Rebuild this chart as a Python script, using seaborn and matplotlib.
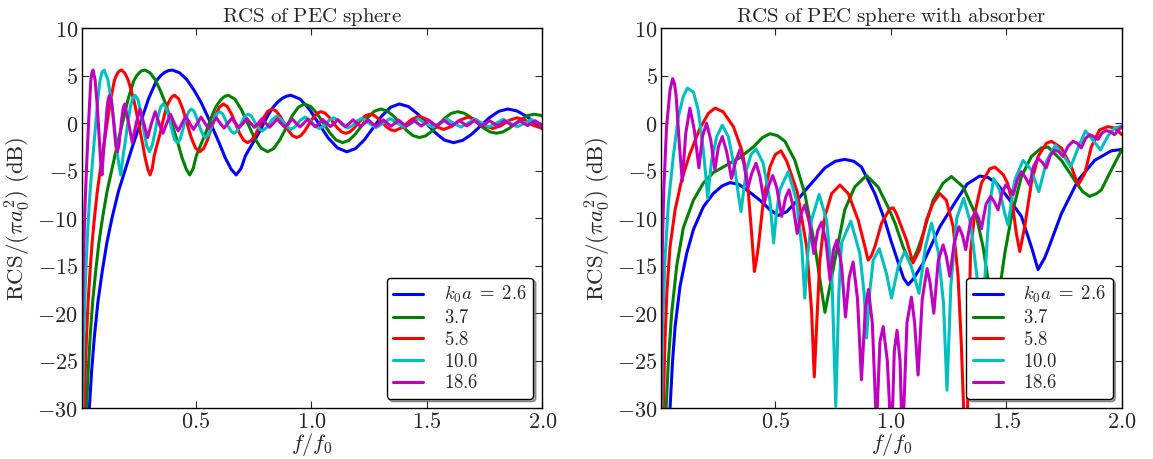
import numpy as np
import matplotlib
matplotlib.use("Agg")
import matplotlib.pyplot as plt
from matplotlib.ticker import FuncFormatter, FixedLocator
import seaborn as sns

# ---------------- data ----------------
k0a_labels = [r"$k_0a\;=\;2.6$", r"$3.7$", r"$5.8$", r"$10.0$", r"$18.6$"]
colors = ["#0000ff", "#008000", "#ff0000", "#00bfbf", "#bf00bf"]

# Left panel: RCS of PEC sphere
pec_f_26 = [0.0327, 0.0385, 0.05, 0.0615, 0.0769, 0.0962, 0.1154, 0.1385, 0.1654, 0.1962, 0.2269, 0.2615, 0.2962,
            0.3308, 0.3481, 0.3654, 0.3827, 0.4, 0.4308, 0.4615, 0.4923, 0.5231, 0.55, 0.5769, 0.6038, 0.6269,
            0.6538, 0.675, 0.6962, 0.7154, 0.7346, 0.7538, 0.7769, 0.7962, 0.8154, 0.8346, 0.8538, 0.8731, 0.8923,
            0.9115, 0.9519, 0.9923, 1.0327, 1.0731, 1.1135, 1.1538, 1.1915, 1.2296, 1.2673, 1.305, 1.3431, 1.3808,
            1.42, 1.4588, 1.4981, 1.5373, 1.5762, 1.6154, 1.6546, 1.6935, 1.7327, 1.7719, 1.8108, 1.85, 1.8896,
            1.9296, 1.9692, 2.0088]
pec_db_26 = [-33, -30.5, -26.0, -22.5, -18.8, -15.5, -12.6, -9.9, -7.2, -4.8, -2.4, 0.1, 2.6, 4.5, 5.0, 5.35, 5.55,
             5.6, 5.3, 4.6, 3.5, 2.2, 0.8, -0.7, -2.2, -3.6, -4.85, -5.44, -4.75, -3.4, -2.6, -1.8, -0.85, 0.1,
             0.95, 1.7, 2.2, 2.6, 2.85, 2.95, 2.55, 1.45, -0.05, -1.55, -2.6, -3.0, -2.66, -1.74, -0.49, 0.77, 1.69,
             2.03, 1.76, 1.01, 0.0, -1.02, -1.77, -2.04, -1.8, -1.155, -0.27, 0.615, 1.26, 1.5, 1.3, 0.75, 0.0,
             -0.75]

pec_f_37 = [0.023, 0.027, 0.0351, 0.0432, 0.0541, 0.0676, 0.0811, 0.0973, 0.1162, 0.1378, 0.1595, 0.1838, 0.2081,
            0.2324, 0.2446, 0.2568, 0.2689, 0.2811, 0.3027, 0.3243, 0.3459, 0.3676, 0.3865, 0.4054, 0.4243, 0.4405,
            0.4595, 0.4743, 0.4892, 0.5027, 0.5162, 0.5297, 0.5459, 0.5595, 0.573, 0.5865, 0.6, 0.6135, 0.627,
            0.6405, 0.6689, 0.6973, 0.7257, 0.7541, 0.7824, 0.8108, 0.8373, 0.8641, 0.8905, 0.917, 0.9438, 0.9703,
            0.9978, 1.0251, 1.0527, 1.0803, 1.1076, 1.1351, 1.1627, 1.19, 1.2176, 1.2451, 1.2724, 1.3, 1.3278,
            1.3559, 1.3838, 1.4116, 1.4397, 1.4676, 1.4951, 1.5224, 1.55, 1.5776, 1.6049, 1.6324, 1.6603, 1.6884,
            1.7162, 1.7441, 1.7722, 1.8, 1.8276, 1.8549, 1.8824, 1.91, 1.9373, 1.9649, 1.9927, 2.0208]
pec_db_37 = [-33, -30.5, -26.0, -22.5, -18.8, -15.5, -12.6, -9.9, -7.2, -4.8, -2.4, 0.1, 2.6, 4.5, 5.0, 5.35, 5.55,
             5.6, 5.3, 4.6, 3.5, 2.2, 0.8, -0.7, -2.2, -3.6, -4.85, -5.44, -4.75, -3.4, -2.6, -1.8, -0.85, 0.1,
             0.95, 1.7, 2.2, 2.6, 2.85, 2.95, 2.55, 1.45, -0.05, -1.55, -2.6, -3.0, -2.66, -1.74, -0.49, 0.77, 1.69,
             2.03, 1.76, 1.01, 0.0, -1.02, -1.77, -2.04, -1.8, -1.155, -0.27, 0.615, 1.26, 1.5, 1.3, 0.75, 0.0,
             -0.75, -1.3, -1.5, -1.32, -0.82, -0.14, 0.54, 1.04, 1.22, 1.07, 0.65, 0.085, -0.48, -0.9, -1.05, -0.92,
             -0.55, -0.05, 0.45, 0.82, 0.95, 0.83, 0.51]

pec_f_58 = [0.0147, 0.0172, 0.0224, 0.0276, 0.0345, 0.0431, 0.0517, 0.0621, 0.0741, 0.0879, 0.1017, 0.1172, 0.1328,
            0.1483, 0.156, 0.1638, 0.1716, 0.1793, 0.1931, 0.2069, 0.2207, 0.2345, 0.2466, 0.2586, 0.2707, 0.281,
            0.2931, 0.3026, 0.3121, 0.3207, 0.3293, 0.3379, 0.3483, 0.3569, 0.3655, 0.3741, 0.3828, 0.3914, 0.4,
            0.4086, 0.4267, 0.4448, 0.4629, 0.481, 0.4991, 0.5172, 0.5341, 0.5512, 0.5681, 0.585, 0.6021, 0.619,
            0.6366, 0.654, 0.6716, 0.6891, 0.7066, 0.7241, 0.7417, 0.7591, 0.7767, 0.7943, 0.8117, 0.8293, 0.8471,
            0.865, 0.8828, 0.9005, 0.9184, 0.9362, 0.9538, 0.9712, 0.9888, 1.0064, 1.0238, 1.0414, 1.0591, 1.0771,
            1.0948, 1.1126, 1.1305, 1.1483, 1.1659, 1.1833, 1.2009, 1.2184, 1.2359, 1.2534, 1.2712, 1.2891, 1.3069,
            1.3247, 1.3426, 1.3603, 1.3948, 1.431, 1.4655, 1.5017, 1.5362, 1.5724, 1.6069, 1.6431, 1.6776, 1.7138,
            1.7483, 1.7845, 1.819, 1.8552, 1.8897, 1.9259, 1.9603, 1.9966, 2.031]
pec_db_58 = [-33, -30.5, -26.0, -22.5, -18.8, -15.5, -12.6, -9.9, -7.2, -4.8, -2.4, 0.1, 2.6, 4.5, 5.0, 5.35, 5.55,
             5.6, 5.3, 4.6, 3.5, 2.2, 0.8, -0.7, -2.2, -3.6, -4.85, -5.44, -4.75, -3.4, -2.6, -1.8, -0.85, 0.1,
             0.95, 1.7, 2.2, 2.6, 2.85, 2.95, 2.55, 1.45, -0.05, -1.55, -2.6, -3.0, -2.66, -1.74, -0.49, 0.77, 1.69,
             2.03, 1.76, 1.01, 0.0, -1.02, -1.77, -2.04, -1.8, -1.155, -0.27, 0.615, 1.26, 1.5, 1.3, 0.75, 0.0,
             -0.75, -1.3, -1.5, -1.32, -0.82, -0.14, 0.54, 1.04, 1.22, 1.07, 0.65, 0.085, -0.48, -0.9, -1.05, -0.92,
             -0.55, -0.05, 0.45, 0.82, 0.95, 0.83, 0.51, 0.075, -0.36, -0.68, -0.8, -0.41, 0.36, 0.75, 0.4, -0.3,
             -0.65, -0.33, 0.33, 0.65, 0.35, -0.25, -0.55, -0.27, 0.30, 0.58, 0.31, -0.23, -0.5, -0.24]

pec_f_100 = [0.0085, 0.01, 0.013, 0.016, 0.02, 0.025, 0.03, 0.036, 0.043, 0.051, 0.059, 0.068, 0.077, 0.086, 0.095,
             0.104, 0.12, 0.136, 0.15, 0.163, 0.1755, 0.186, 0.196, 0.207, 0.217, 0.227, 0.237, 0.25, 0.263, 0.276,
             0.288, 0.30, 0.312, 0.324, 0.336, 0.348, 0.359, 0.371, 0.384, 0.396, 0.408, 0.42, 0.432, 0.445, 0.457,
             0.469, 0.481, 0.493, 0.506, 0.518, 0.531, 0.543, 0.555, 0.567, 0.58, 0.592, 0.604, 0.616, 0.628,
             0.642, 0.654, 0.666, 0.678, 0.69, 0.703, 0.715, 0.727, 0.739, 0.752, 0.764, 0.777, 0.789, 0.809, 0.83,
             0.85, 0.871, 0.891, 0.912, 0.932, 0.953, 0.973, 0.994, 1.014, 1.035, 1.055, 1.076, 1.096, 1.117, 1.137,
             1.158, 1.178, 1.199, 1.219, 1.25, 1.28, 1.311, 1.341, 1.372, 1.402, 1.433, 1.463, 1.494, 1.525, 1.555,
             1.586, 1.616, 1.647, 1.677, 1.708, 1.738, 1.769, 1.799, 1.83, 1.861, 1.891, 1.922, 1.952, 1.983, 2.013]
pec_db_100 = [-33, -30.5, -26.0, -22.5, -18.8, -15.5, -12.6, -9.9, -7.2, -4.8, -2.4, 0.1, 2.6, 4.5, 5.4, 5.6, 4.6,
              2.2, -0.7, -3.6, -5.44, -3.4, -1.8, 0.1, 1.7, 2.6, 2.95, 2.5, 1.1, -0.8, -2.4, -3.0, -2.3, -0.9, 0.6,
              1.7, 2.03, 1.7, 0.6, -0.6, -1.7, -2.04, -1.7, -0.6, 0.5, 1.2, 1.5, 1.25, 0.45, -0.45, -1.2, -1.5,
              -1.25, -0.45, 0.4, 1.0, 1.22, 1.0, 0.4, -0.4, -0.85, -1.05, -0.85, -0.35, 0.3, 0.8, 0.95, 0.8, 0.3,
              -0.3, -0.65, -0.8, -0.41, 0.36, 0.75, 0.4, -0.3, -0.65, -0.33, 0.33, 0.65, 0.35, -0.25, -0.55, -0.27,
              0.30, 0.58, 0.31, -0.23, -0.5, -0.24, 0.27, 0.52, 0.0, -0.45, 0.0, 0.5, 0.0, -0.43, 0.0, 0.48, 0.0,
              -0.41, 0.0, 0.46, 0.0, -0.4, 0.0, 0.44, 0.0, -0.38, 0.0, 0.42, 0.0, -0.37, 0.0, 0.4, 0.0, -0.35]

pec_f_186 = [0.0046, 0.0054, 0.0086, 0.0134, 0.0194, 0.0274, 0.0366, 0.0462, 0.0511, 0.0559, 0.0645, 0.0731,
             0.0806, 0.0876, 0.0944, 0.1, 0.1054, 0.1113, 0.1167, 0.122, 0.1274, 0.1344, 0.1414, 0.1484, 0.1548,
             0.1613, 0.1677, 0.1742, 0.1806, 0.1871, 0.1930, 0.2097, 0.2258, 0.2425,
             0.2586, 0.2753, 0.2919, 0.3086, 0.3247, 0.3414, 0.3581, 0.3747, 0.3909, 0.4075, 0.4242, 0.4409,
             0.4570, 0.4737, 0.4903, 0.5065, 0.5231, 0.5398, 0.5565, 0.5726, 0.5893, 0.6059, 0.6226, 0.6387,
             0.6554, 0.6720, 0.6882, 0.7048, 0.7210, 0.7376, 0.7538, 0.7704, 0.7866, 0.8032, 0.8199, 0.8360,
             0.8527, 0.8688, 0.8855, 0.9016, 0.9183, 0.9344, 0.9511, 0.9672, 0.9839, 1.0005, 1.0167, 1.0333,
             1.0495, 1.0661, 1.0823, 1.0989, 1.1151, 1.1317, 1.1479, 1.1645, 1.1807, 1.1973, 1.2134, 1.2301,
             1.2462, 1.2629, 1.2790, 1.2957, 1.3118, 1.3285, 1.3446, 1.3613, 1.3774, 1.3941, 1.4102, 1.4269,
             1.4430, 1.4597, 1.4758, 1.4925, 1.5086, 1.5253, 1.5414, 1.5581, 1.5742, 1.5909, 1.6070, 1.6237,
             1.6398, 1.6565, 1.6726, 1.6893, 1.7054, 1.7220, 1.7382, 1.7548, 1.7710, 1.7876, 1.8038, 1.8204,
             1.8366, 1.8532, 1.8694, 1.8860, 1.9022, 1.9188, 1.9350, 1.9516, 1.9677, 1.9844, 2.0005]
pec_db_186 = [-33, -30.5, -22.5, -15.5, -9.9, -4.8, 0.1, 4.5, 5.35, 5.6, 4.6, 2.2, -0.7, -3.6, -5.44, -3.4, -1.8,
              0.1, 1.7, 2.6, 2.95, 2.5, 1.1, -0.8, -2.4, -3.0, -2.3, -0.9, 0.6, 1.7, 2.03, 0.0, -2.04, 0.0,
              1.5, 0.0, -1.5, 0.0, 1.22, 0.0, -1.05, 0.0, 0.95, 0.0, -0.8,
              0.0, 0.75, 0.0, -0.65, 0.0, 0.65, 0.0, -0.55, 0.0, 0.58, 0.0, -0.5, 0.0, 0.52, 0.0, -0.45, 0.0, 0.5,
              0.0, -0.43, 0.0, 0.48, 0.0, -0.41, 0.0, 0.46, 0.0, -0.4, 0.0, 0.44, 0.0, -0.38, 0.0, 0.42, 0.0, -0.37,
              0.0, 0.4, 0.0, -0.35, 0.0, 0.38, 0.0, -0.34, 0.0, 0.37, 0.0, -0.33, 0.0, 0.36, 0.0, -0.32, 0.0, 0.35,
              0.0, -0.31, 0.0, 0.34, 0.0, -0.3, 0.0, 0.33, 0.0, -0.29, 0.0, 0.32, 0.0, -0.28, 0.0, 0.31, 0.0, -0.27,
              0.0, 0.3, 0.0, -0.27, 0.0, 0.29, 0.0, -0.26, 0.0, 0.28, 0.0, -0.26, 0.0, 0.27, 0.0, -0.25, 0.0, 0.27,
              0.0, -0.25, 0.0, 0.26, 0.0, -0.24]

# Right panel: RCS of PEC sphere with absorber
abs_f_26 = [0.040, 0.045, 0.056, 0.067, 0.088, 0.117, 0.146, 0.189, 0.232, 0.27, 0.304, 0.34, 0.376, 0.434, 0.477,
            0.513, 0.55, 0.585, 0.643, 0.715, 0.76, 0.801, 0.84, 0.873, 0.931, 0.974, 1.0, 1.03, 1.055, 1.075, 1.1,
            1.14, 1.212, 1.284, 1.33, 1.385, 1.42, 1.457, 1.493, 1.515, 1.565, 1.608, 1.637, 1.665, 1.68, 1.738,
            1.81, 1.882, 1.954, 2.0]
abs_db_26 = [-33, -30, -25, -21.4, -17.2, -13.7, -11.2, -8.8, -7.4, -6.6, -6.25, -6.4, -7.0, -8.1, -9.1, -9.7,
             -9.3, -8.4, -6.7, -4.7, -4.0, -3.8, -4.0, -4.6, -7.4, -10.2, -12.3, -14.5, -16.3, -17.0, -16.3, -14.7,
             -10.9, -8.1, -6.4, -5.55, -5.7, -6.3, -7.4, -8.1, -9.8, -13.0, -15.4, -14.2, -13.3, -9.5, -6.0, -3.9,
             -2.9, -2.75]

abs_f_37 = [0.023, 0.028, 0.038, 0.052, 0.074, 0.1025, 0.146, 0.189, 0.232, 0.29, 0.348, 0.405, 0.445, 0.477, 0.51,
            0.542, 0.585, 0.628, 0.672, 0.70, 0.715, 0.73, 0.758, 0.801, 0.844, 0.895, 0.945, 0.988, 1.018, 1.053,
            1.075, 1.096, 1.118, 1.14, 1.183, 1.226, 1.262, 1.313, 1.37, 1.399, 1.421, 1.44, 1.46, 1.479, 1.493,
            1.522, 1.565, 1.608, 1.651, 1.68, 1.738, 1.795, 1.83, 1.86, 1.89, 1.911, 1.954, 2.0]
abs_db_37 = [-33, -30, -25, -20, -15, -11.0, -8.1, -6.3, -5.2, -4.4, -3.6, -2.5, -1.5, -1.1, -1.3, -1.9, -3.9, -7.4,
             -13.0, -17.5, -19.9, -18.0, -14.4, -9.1, -6.7, -5.5, -6.7, -8.8, -10.5, -13.0, -14.2, -14.4, -13.2,
             -11.6, -8.1, -6.3, -5.6, -6.7, -9.8, -13.0, -16.5, -22.0, -18.5, -16.1, -13.7, -9.8, -5.6, -3.5, -2.6,
             -2.5, -3.9, -6.0, -7.2, -7.7, -7.4, -7.0, -4.9, -2.75]

abs_f_58 = [0.014, 0.016, 0.023, 0.031, 0.045, 0.067, 0.095, 0.131, 0.175, 0.211, 0.24, 0.275, 0.319, 0.355, 0.372,
            0.384, 0.398, 0.41, 0.418, 0.427, 0.449, 0.477, 0.50, 0.525, 0.55, 0.595, 0.636, 0.657, 0.669, 0.679,
            0.693, 0.715, 0.744, 0.78, 0.816, 0.859, 0.888, 0.902, 0.915, 0.931, 0.96, 0.996, 1.01, 1.024, 1.068,
            1.096, 1.125, 1.154, 1.183, 1.212, 1.24, 1.27, 1.291, 1.305, 1.315, 1.324, 1.332, 1.338, 1.345, 1.363,
            1.392, 1.428, 1.45, 1.486, 1.505, 1.525, 1.543, 1.558, 1.579, 1.608, 1.637, 1.673, 1.695, 1.738, 1.781,
            1.81, 1.839, 1.867, 1.903, 1.939, 1.968, 2.0]
abs_db_58 = [-33, -30, -23, -17.9, -13, -9.1, -6.0, -3.2, -0.5, 1.05, 1.6, 1.2, -0.35, -2.8, -4.8, -7.4, -11.6,
             -15.6, -14.5, -13.0, -8.1, -4.6, -3.3, -2.9, -4.0, -7.2, -13.0, -19.6, -26.7, -21.4, -14.4, -9.8, -7.4,
             -6.5, -7.4, -10.2, -13.0, -14.4, -14.0, -13.0, -10.5, -9.0, -8.9, -9.5, -12.3, -14.7, -13.3, -10.2,
             -8.4, -7.4, -8.1, -10.9, -16.1, -23.2, -30.0, -36.0, -30.0, -21.0, -13.5, -9.5, -6.3, -4.8, -4.6, -5.4,
             -6.3, -8.3, -11.6, -13.5, -10.9, -6.3, -3.5, -2.1, -1.9, -2.6, -4.6, -6.5, -5.3, -2.5, -0.7, -0.35,
             -0.5, -1.2]

abs_f_100 = [0.007, 0.009, 0.013, 0.023, 0.038, 0.059, 0.081, 0.102, 0.12, 0.146, 0.167, 0.189, 0.2, 0.208, 0.216,
             0.225, 0.247, 0.271, 0.297, 0.326, 0.34, 0.352, 0.364, 0.376, 0.395, 0.417, 0.448, 0.477, 0.493, 0.505,
             0.52, 0.556, 0.592, 0.615, 0.628, 0.64, 0.657, 0.69, 0.722, 0.745, 0.762, 0.775, 0.787, 0.827, 0.866,
             0.885, 0.895, 0.91, 0.924, 0.95, 0.981, 1.003, 1.032, 1.06, 1.089, 1.122, 1.15, 1.176, 1.205, 1.228,
             1.243, 1.26, 1.285, 1.315, 1.345, 1.373, 1.395, 1.415, 1.428, 1.445, 1.47, 1.493, 1.507, 1.536, 1.572,
             1.608, 1.64, 1.675, 1.712, 1.745, 1.778, 1.81, 1.842, 1.875, 1.907, 1.94, 1.968, 2.0]
abs_db_100 = [-33, -30, -21.4, -14.4, -8.4, -3.5, 0.7, 2.8, 3.7, 3.3, 1.4, -2.8, -5.6, -7.9, -6.0, -3.9, -1.4, -0.2,
              -1.4, -4.9, -7.4, -9.3, -7.0, -4.9, -3.3, -2.7, -4.2, -8.1, -12.6, -9.5, -7.0, -5.1, -8.1, -13.0, -18.4,
              -14.0, -10.2, -7.5, -10.2, -16.0, -29.8, -18.0, -12.6, -10.3, -13.7, -18.0, -22.6, -17.5, -14.4, -13.2,
              -15.8, -18.4, -15.1, -13.5, -15.1, -17.9, -13.0, -10.5, -13.5, -19.0, -28.1, -17.0, -10.0, -7.9, -10.5,
              -16.2, -21.0, -13.0, -8.5, -5.8, -7.0, -9.5, -10.7, -6.0, -3.9, -4.9, -7.2, -3.9, -2.3, -3.3, -4.6,
              -2.6, -0.8, -1.8, -2.8, -1.3, -0.5, -0.3]

abs_f_186 = [0.004, 0.0055, 0.008, 0.012, 0.018, 0.03, 0.045, 0.056, 0.064, 0.071, 0.085, 0.098, 0.113, 0.131, 0.15,
             0.17, 0.185, 0.203, 0.221, 0.239, 0.254, 0.271, 0.29, 0.311, 0.33, 0.347, 0.364, 0.382, 0.398, 0.417,
             0.434, 0.453, 0.47, 0.489, 0.506, 0.528, 0.545, 0.56, 0.578, 0.595, 0.612, 0.628, 0.648, 0.667, 0.684,
             0.701, 0.72, 0.737, 0.752, 0.767, 0.787, 0.804, 0.82, 0.837, 0.856, 0.873, 0.89, 0.903, 0.92, 0.938,
             0.953, 0.967, 0.985, 1.003, 1.015, 1.027, 1.04, 1.05, 1.07, 1.089, 1.103, 1.118, 1.136, 1.157, 1.17,
             1.186, 1.205, 1.226, 1.24, 1.255, 1.275, 1.295, 1.31, 1.324, 1.345, 1.366, 1.38, 1.392, 1.412, 1.432,
             1.448, 1.464, 1.48, 1.497, 1.513, 1.53, 1.548, 1.565, 1.582, 1.60, 1.618, 1.637, 1.655, 1.672, 1.69,
             1.709, 1.727, 1.745, 1.767, 1.788, 1.806, 1.824, 1.842, 1.86, 1.878, 1.896, 1.914, 1.932, 1.95, 1.968,
             1.985, 2.0]
abs_db_186 = [-33, -28, -20, -13, -7, -0.4, 3.5, 4.7, 4.2, 3.0, -2.1, -6.1, -1.05, 1.6, -0.7, -4.7, -1.4, 0.0, -1.75,
              -4.9, -2.5, -1.4, -3.0, -5.8, -3.9, -2.8, -4.2, -6.8, -5.3, -4.2, -5.6, -8.4, -6.7, -5.5, -6.7, -9.8,
              -7.8, -7.0, -8.8, -11.6, -9.5, -8.6, -10.5, -13.7, -11.3, -10.4, -12.5, -16.5, -13.3, -12.3, -15.0,
              -20.4, -16.2, -14.6, -18.5, -27.0, -19.5, -17.5, -21.0, -32.0, -23.0, -21.4, -25.0, -34.0, -24.0,
              -21.8, -25.0, -34.0, -21.0, -18.3, -21.0, -26.5, -18.5, -15.3, -16.8, -20.0, -14.5, -12.8, -14.0,
              -16.1, -12.5, -10.9, -11.8, -13.3, -10.3, -9.3, -10.0, -11.1, -8.5, -7.7, -8.3, -9.1, -7.4, -6.5,
              -6.9, -7.5, -5.9, -5.1, -5.7, -6.5, -4.5, -3.7, -4.1, -4.7, -3.4, -2.8, -3.0, -3.5, -2.4, -1.9, -2.1,
              -2.6, -1.6, -1.2, -1.4, -1.7, -1.0, -0.77, -0.9, -1.2, -0.7, -0.35]

pec_series = [(pec_f_26, pec_db_26), (pec_f_37, pec_db_37), (pec_f_58, pec_db_58),
              (pec_f_100, pec_db_100), (pec_f_186, pec_db_186)]
abs_series = [(abs_f_26, abs_db_26), (abs_f_37, abs_db_37), (abs_f_58, abs_db_58),
              (abs_f_100, abs_db_100), (abs_f_186, abs_db_186)]
titles = [r"$\mathrm{RCS\ of\ PEC\ sphere}$", r"$\mathrm{RCS\ of\ PEC\ sphere\ with\ absorber}$"]
y_ticks = [-30, -25, -20, -15, -10, -5, 0, 5, 10]
x_ticks = [0.5, 1.0, 1.5, 2.0]

# ---------------- style ----------------
sns.set_style("ticks")
plt.rcParams.update({
    "font.family": ["DejaVu Serif"],
    "mathtext.fontset": "cm",
    "xtick.direction": "in",
    "ytick.direction": "in",
    "xtick.top": True,
    "ytick.right": True,
    "axes.linewidth": 1.0,
    "axes.edgecolor": "black",
})

fig = plt.figure(figsize=(11.53, 4.59), dpi=100)
ax_left = fig.add_axes([0.0707, 0.1105, 0.3998, 0.8279])
ax_right = fig.add_axes([0.5733, 0.1105, 0.3998, 0.8279])

for ax, series, title in [(ax_left, pec_series, titles[0]), (ax_right, abs_series, titles[1])]:
    for (fx, dbx), col, lab in zip(series, colors, k0a_labels):
        sns.lineplot(x=np.asarray(fx), y=np.asarray(dbx), ax=ax, color=col, linewidth=2.2,
                     label=lab, sort=False, estimator=None, errorbar=None)
    ax.set_xlim(0.006, 2.0)
    ax.set_ylim(-30, 10)
    ax.xaxis.set_major_locator(FixedLocator(x_ticks))
    ax.yaxis.set_major_locator(FixedLocator(y_ticks))
    ax.xaxis.set_major_formatter(FuncFormatter(lambda v, p: r"$%.1f$" % v))
    ax.yaxis.set_major_formatter(FuncFormatter(lambda v, p: r"$%d$" % v))
    ax.tick_params(axis="both", which="major", labelsize=16, length=5, width=0.8,
                   top=True, right=True, direction="in")
    ax.tick_params(axis="x", pad=2)
    ax.tick_params(axis="y", pad=2.5)
    ax.set_xlabel(r"$f/f_0$", fontsize=16, labelpad=-1.5)
    ax.set_ylabel(r"$\mathrm{RCS}/(\pi a_0^2)\ \mathrm{(dB)}$", fontsize=16.5, labelpad=3)
    ax.set_title(title, fontsize=15, pad=3)
    leg = ax.legend(loc="lower right", fontsize=13.5, fancybox=True, shadow=True, framealpha=1,
                    handlelength=1.6, borderaxespad=0.5, labelspacing=0.2, handletextpad=1.1,
                    borderpad=0.35)
    leg.get_frame().set_edgecolor("black")
    for s in ax.spines.values():
        s.set_visible(True)

fig.savefig("out.png", dpi=100)
